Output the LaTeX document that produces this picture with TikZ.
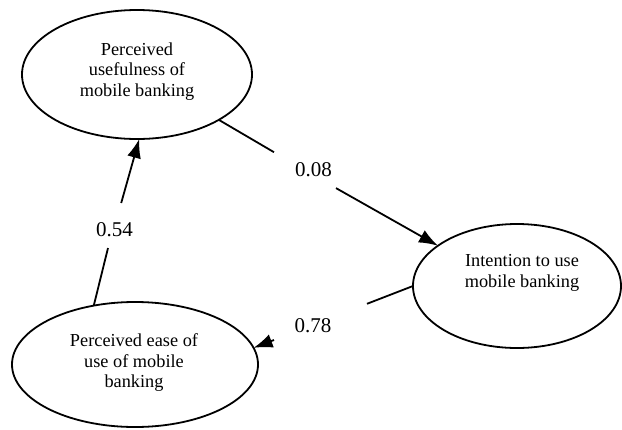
\documentclass[tikz,border=0pt]{standalone}
\usepackage{fontspec}
\setmainfont{Liberation Serif}
\usetikzlibrary{arrows.meta,shapes.geometric}
\begin{document}
\begin{tikzpicture}[x=1pt,y=-1pt,
  ell/.style={draw, ellipse, line width=1.8pt, inner sep=0pt, outer sep=0pt},
  lbl/.style={align=center, font=\fontsize{18.3}{20.5}\selectfont, inner sep=0pt},
  num/.style={font=\fontsize{21}{24}\selectfont, inner sep=0pt},
  conn/.style={line width=1.8pt},
  arr/.style={conn, -{Latex[length=19pt,width=14pt]}}]
\useasboundingbox (0,0) rectangle (622,429);
% ellipses
\node[ell, minimum width=230pt, minimum height=129pt] (pu) at (137,74.5) {};
\node[ell, minimum width=246pt, minimum height=125pt] (pe) at (135,364.5) {};
\node[ell, minimum width=208pt, minimum height=124pt] (int) at (517,286) {};
% texts
\node[lbl] (put) at (137,71.5) {Perceived\\usefulness of\\mobile banking};
\node[lbl] (pet) at (134,363) {Perceived ease of\\use of mobile\\banking};
\node[lbl] (intt) at (522,273) {Intention to use\\mobile banking};
% numbers
\node[num] (n08) at (313.5,169.5) {0.08};
\node[num] (n54) at (114.5,229.5) {0.54};
\node[num] (n78) at (313,325.5) {0.78};
% gap ends
\coordinate (a1) at (274,152.2);
\coordinate (b1) at (336,188.1);
\coordinate (a2) at (108,248);
\coordinate (b2) at (121.2,203);
\coordinate (a3) at (367,303.8);
\coordinate (b3) at (274,340);
% connectors
\draw[conn] (pu.-29.3) -- (a1);
\draw[arr] (b1) -- (int.153.7);
\draw[conn] (pe.125) -- (a2);
\draw[arr] (b2) -- (pu.-88.3);
\draw[conn] (int.180) -- (a3);
\draw[arr] (b3) -- (pe.8);
\end{tikzpicture}
\end{document}
